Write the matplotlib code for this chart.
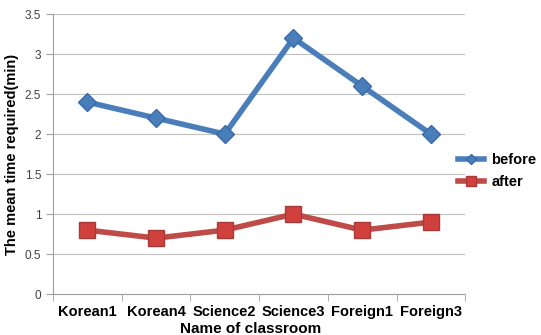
import numpy as np
import matplotlib.pyplot as plt

classrooms = ['Korean1', 'Korean4', 'Science2', 'Science3', 'Foreign1', 'Foreign3']
before = [2.4, 2.2, 2.0, 3.2, 2.6, 2.0]
after = [0.8, 0.7, 0.8, 1.0, 0.8, 0.9]

plt.rcParams['font.family'] = ['Liberation Sans', 'DejaVu Sans']

fig = plt.figure(figsize=(5.41, 3.35), dpi=100)
ax = fig.add_axes([0.098, 0.122, 0.762, 0.836])

x = np.arange(len(classrooms))
ax.plot(x, before, color='#4A7EBB', lw=4, marker='D', ms=9,
        mec='#3A6BA8', mfc='#4A7EBB', label='before', zorder=3)
ax.plot(x, after, color='#BE4B48', lw=4, marker='s', ms=12,
        mec='#A83A37', mfc='#D0403C', label='after', zorder=3)

ax.set_xlim(-0.5, len(classrooms) - 0.5)
ax.set_ylim(0, 3.5)
ax.set_yticks(np.arange(0, 3.51, 0.5))
ax.set_yticklabels(['0', '0.5', '1', '1.5', '2', '2.5', '3', '3.5'])
ax.set_xticks(x)
ax.set_xticklabels(classrooms, fontweight='bold', fontsize=10.5)
ax.set_xticks(np.arange(-0.5, len(classrooms), 1), minor=True)
ax.tick_params(axis='x', which='major', length=0, pad=8)
ax.tick_params(axis='x', which='minor', length=5, color='#A0A0A0')
ax.tick_params(axis='y', length=5, color='#A0A0A0', labelsize=8.5, labelcolor='#404040')

ax.grid(axis='y', color='#C0C0C0', lw=0.8)
ax.set_axisbelow(True)
for s in ['top', 'right']:
    ax.spines[s].set_visible(False)
for s in ['left', 'bottom']:
    ax.spines[s].set_color('#A0A0A0')

ax.set_xlabel('Name of classroom', fontweight='bold', fontsize=11, labelpad=0)
ax.xaxis.set_label_coords(0.48, -0.1)
ax.set_ylabel('The mean time required(min)', fontweight='bold', fontsize=10.5)

ax.legend(loc='center left', bbox_to_anchor=(458 / 541, 1 - 171 / 335),
          bbox_transform=fig.transFigure, frameon=False,
          prop={'weight': 'bold', 'size': 10.5}, handlelength=1.8,
          handletextpad=0.5, borderpad=0, borderaxespad=0,
          markerscale=0.6, labelspacing=0.6)

plt.savefig('out.png', dpi=100)
